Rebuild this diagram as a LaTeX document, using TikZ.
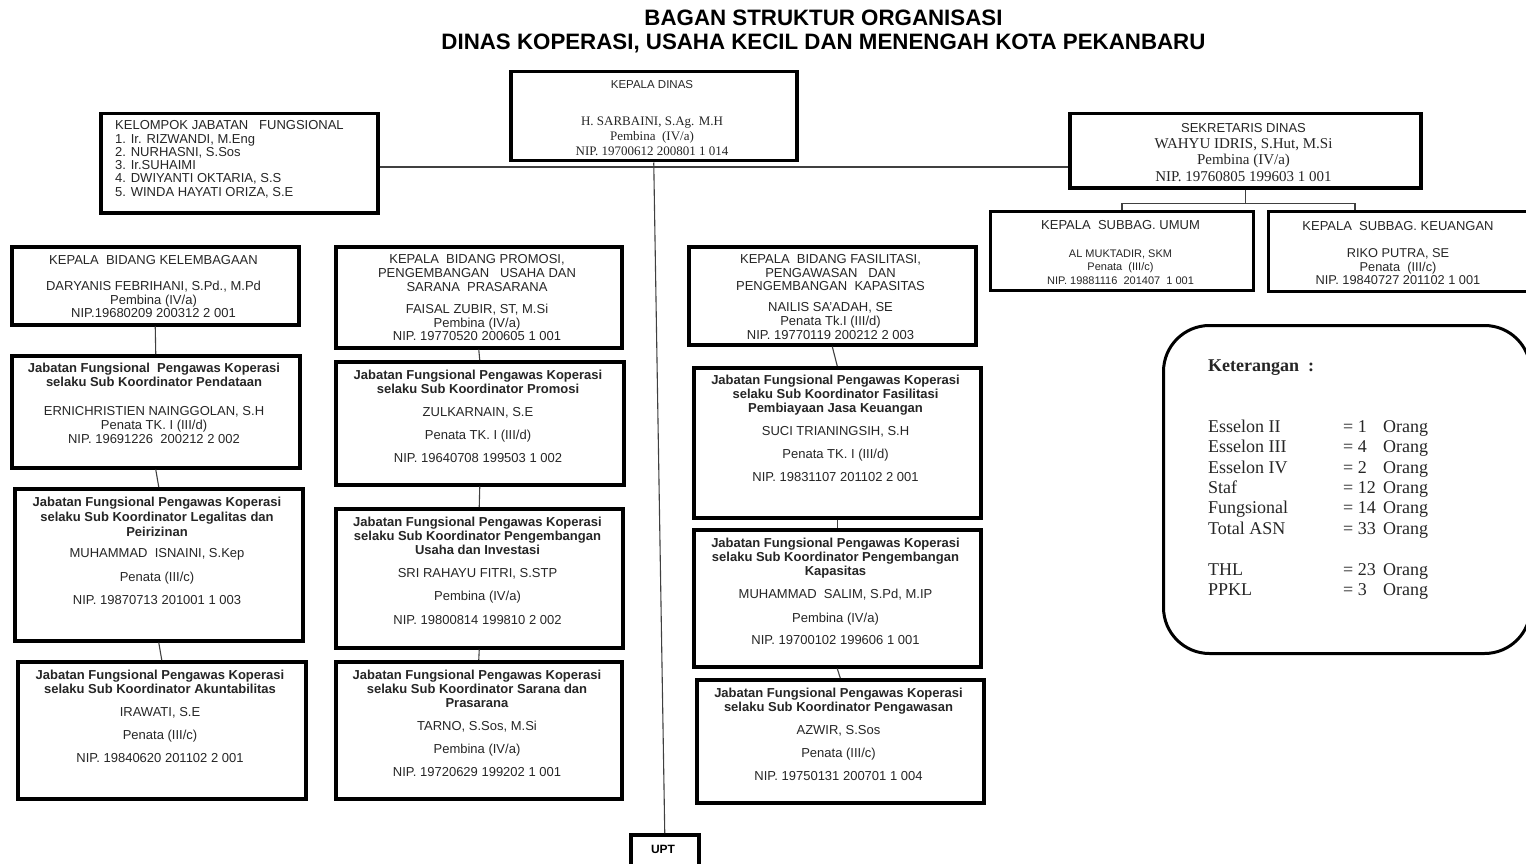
\documentclass[tikz,border=0pt]{standalone}
\usepackage{fontspec}
\setmainfont{Liberation Sans}
\newfontfamily\tnr{Liberation Serif}
\usetikzlibrary{calc}
\tikzset{
  box/.style={draw=black, line width=3.5pt, fill=white, inner sep=0pt},
  conn/.style={draw=black!75, line width=1.1pt},
  txt/.style={inner sep=0pt, align=center, text=black!85, font=\fontsize{13}{14}\selectfont},
  legendbox/.style={draw=black, line width=3pt, fill=white, inner sep=0pt, rounded corners=46pt},
  titletxt/.style={inner sep=0pt, align=center, text=black, font=\fontsize{22.3}{24}\selectfont\bfseries},
}
\newcommand\obox[6][]{\node[box,#1,minimum width={#5-#3},minimum height={#6-#4},anchor=north west] (#2) at (#3,#4) {};}
\newcommand\otext[5][]{\node[txt,anchor=north,#1] (#2) at (#3,{#4-11}) {\rule{0pt}{11pt}#5};}
\newcommand\jb[1]{\textbf{#1}}
\begin{document}
\begin{tikzpicture}[x=1pt,y=-1pt]
\fill[white] (0,0) rectangle (1526,864);
\useasboundingbox (0,0) rectangle (1526,864);

% title
\node[titletxt, anchor=north] (title) at (823.5,8) {\rule{0pt}{17pt}BAGAN STRUKTUR ORGANISASI\\ DINAS KOPERASI, USAHA KECIL DAN MENENGAH KOTA PEKANBARU};

% Kepala Dinas
\obox{kd}{509}{70}{795}{159}
\otext[font=\fontsize{11.5}{13}\selectfont]{kdh}{652}{88}{KEPALA DINAS}
\otext[font=\tnr\fontsize{13}{15}\selectfont]{kdt}{652}{125}{H. SARBAINI, S.Ag. M.H\\ Pembina\ \ (IV/a)\\ NIP. 19700612 200801 1 014}

% Kelompok jabatan fungsional
\obox{kel}{99}{112}{376}{211}
\otext[anchor=north west, align=left, font=\fontsize{13}{13.3}\selectfont]{kelt}{115}{129.5}{KELOMPOK JABATAN\ \ \ FUNGSIONAL\\ 1. Ir. RIZWANDI, M.Eng\\ 2. NURHASNI, S.Sos\\ 3. Ir.SUHAIMI\\ 4. DWIYANTI OKTARIA, S.S\\ 5. WINDA HAYATI ORIZA, S.E}

% Sekretaris
\obox{sek}{1068}{112}{1419}{186}
\otext{sekh}{1243.5}{132.5}{SEKRETARIS DINAS}
\otext[font=\tnr\fontsize{15}{16.5}\selectfont]{sekt}{1243.5}{148}{WAHYU IDRIS, S.Hut, M.Si\\ Pembina (IV/a)\\ NIP. 19760805 199603 1 001}

\obox[line width=3pt]{umum}{989}{210}{1252}{289}
\otext{umumh}{1120.5}{229.5}{KEPALA\ \ SUBBAG. UMUM}
\otext[font=\fontsize{11}{13.5}\selectfont]{umumt}{1120.5}{257}{AL MUKTADIR, SKM\\ Penata\ \ (III/c)\\ NIP. 19881116\ \ 201407\ \ 1 001}

\obox[line width=3pt]{keu}{1267}{210}{1532}{290}
\otext{keuh}{1398}{230.5}{KEPALA\ \ SUBBAG. KEUANGAN}
\otext[font=\fontsize{12.8}{13.5}\selectfont]{keut}{1398}{257.5}{RIKO PUTRA, SE\\ Penata\ \ (III/c)\\ NIP. 19840727 201102 1 001}

% Kepala bidang
\obox{kb1}{10}{245}{297}{323}
\otext{kb1t}{153.5}{264.5}{KEPALA\ \ BIDANG KELEMBAGAAN\\[12pt] DARYANIS FEBRIHANI, S.Pd., M.Pd\\ Pembina (IV/a)\\[-1pt] NIP.19680209 200312 2 001}

\obox{kb2}{334}{245}{620}{346}
\otext{kb2t}{477}{263.5}{KEPALA\ \ BIDANG PROMOSI,\\ PENGEMBANGAN\ \ \ USAHA DAN\\ SARANA\ \ PRASARANA\\[8pt] FAISAL ZUBIR, ST, M.Si\\ Pembina (IV/a)\\[-1pt] NIP. 19770520 200605 1 001}

\obox{kb3}{687}{245}{974}{343}
\otext{kb3t}{830.5}{263.5}{KEPALA\ \ BIDANG FASILITASI,\\ PENGAWASAN\ \ \ DAN\\[-1pt] PENGEMBANGAN\ \ KAPASITAS\\[7pt] NAILIS SA'ADAH, SE\\ Penata Tk.I (III/d)\\ NIP. 19770119 200212 2 003}

% left column
\obox{l1}{10}{354}{298}{466}
\otext{l1t}{154}{372.5}{\jb{Jabatan Fungsional\ \ Pengawas Koperasi}\\ \jb{selaku Sub Koordinator Pendataan}\\[15pt] ERNICHRISTIEN NAINGGOLAN, S.H\\ Penata TK. I (III/d)\\ NIP. 19691226\ \ 200212 2 002}

\obox{l2}{13}{487}{301}{639}
\otext{l2t}{157}{506.5}{\jb{Jabatan Fungsional Pengawas Koperasi}\\[1pt] \jb{selaku Sub Koordinator Legalitas dan}\\[1pt] \jb{Peirizinan}\\[7pt] MUHAMMAD\ \ ISNAINI, S.Kep\\[10pt] Penata (III/c)\\[9pt] NIP. 19870713 201001 1 003}

\obox{l3}{16}{660}{304}{797}
\otext{l3t}{160}{679.5}{\jb{Jabatan Fungsional Pengawas Koperasi}\\ \jb{selaku Sub Koordinator Akuntabilitas}\\[9pt] IRAWATI, S.E\\[9pt] Penata (III/c)\\[9pt] NIP. 19840620 201102 2 001}

% middle column
\obox{m1}{334}{360}{622}{483}
\otext{m1t}{478}{379.5}{\jb{Jabatan Fungsional Pengawas Koperasi}\\ \jb{selaku Sub Koordinator Promosi}\\[9pt] ZULKARNAIN, S.E\\[9pt] Penata TK. I (III/d)\\[9pt] NIP. 19640708 199503 1 002}

\obox{m2}{334}{507}{621}{646}
\otext{m2t}{477.5}{526.5}{\jb{Jabatan Fungsional Pengawas Koperasi}\\ \jb{selaku Sub Koordinator Pengembangan}\\ \jb{Usaha dan Investasi}\\[9pt] SRI RAHAYU FITRI, S.STP\\[9pt] Pembina (IV/a)\\[10pt] NIP. 19800814 199810 2 002}

\obox{m3}{334}{660}{620}{797}
\otext{m3t}{477}{679.5}{\jb{Jabatan Fungsional Pengawas Koperasi}\\ \jb{selaku Sub Koordinator Sarana dan}\\ \jb{Prasarana}\\[9pt] TARNO, S.Sos, M.Si\\[9pt] Pembina (IV/a)\\[9pt] NIP. 19720629 199202 1 001}

% right column
\obox{r1}{692}{366}{979}{516}
\otext{r1t}{835.5}{384.5}{\jb{Jabatan Fungsional Pengawas Koperasi}\\ \jb{selaku Sub Koordinator Fasilitasi}\\ \jb{Pembiayaan Jasa Keuangan}\\[9pt] SUCI TRIANINGSIH, S.H\\[9pt] Penata TK. I (III/d)\\[9pt] NIP. 19831107 201102 2 001}

\obox{r2}{692}{528}{979}{665}
\otext{r2t}{835.5}{547.5}{\jb{Jabatan Fungsional Pengawas Koperasi}\\ \jb{selaku Sub Koordinator Pengembangan}\\ \jb{Kapasitas}\\[9pt] MUHAMMAD\ \ SALIM, S.Pd, M.IP\\[10pt] Pembina (IV/a)\\[8pt] NIP. 19700102 199606 1 001}

\obox{r3}{695}{678}{982}{801}
\otext{r3t}{838.5}{697.5}{\jb{Jabatan Fungsional Pengawas Koperasi}\\ \jb{selaku Sub Koordinator Pengawasan}\\[9pt] AZWIR, S.Sos\\[9pt] Penata (III/c)\\[9pt] NIP. 19750131 200701 1 004}

% UPT
\obox{upt}{629}{833}{697}{885}
\otext[font=\fontsize{12}{14}\selectfont\bfseries, text=black]{uptt}{663}{853.5}{UPT}

% legend
\node[legendbox, minimum width=367, minimum height=328, anchor=north west] (leg) at (1162,324) {};
\node[anchor=base west, inner sep=0pt, text=black!85, font=\tnr\fontsize{18}{20.4}\selectfont] (legt) at (1208,371) {%
\begin{tabular}[t]{@{}p{135pt}@{}p{40pt}@{}l@{}}
\textbf{Keterangan\ \ :} & & \\
 & & \\
 & & \\
Esselon II & = 1 & Orang\\
Esselon III & = 4 & Orang\\
Esselon IV & = 2 & Orang\\
Staf & = 12 & Orang\\
Fungsional & = 14 & Orang\\
Total ASN & = 33 & Orang\\
 & & \\
THL & = 23 & Orang\\
PPKL & = 3 & Orang
\end{tabular}};

% connectors
\coordinate (hl) at (0,167);
\draw[conn] (kd.south) -- (upt.north);
\draw[conn] (kel.east |- hl) -- (sek.west |- hl);
\draw[conn] (sek.south) -- ++(0,14) coordinate (bj);
\coordinate (keuin) at ($(keu.north west)+(88,0)$);
\draw[conn] (umum.north) |- (bj) -| (keuin);
\draw[conn] (kb1.south) -- (l1.north);
\draw[conn] (l1.south) -- (l2.north);
\draw[conn] (l2.south) -- (l3.north);
\draw[conn] (kb2.south) -- (m1.north);
\draw[conn] (m1.south) -- (m2.north);
\draw[conn] (m2.south) -- (m3.north);
\draw[conn] (kb3.south) -- (r1.north);
\draw[conn] (r1.south) -- (r2.north);
\draw[conn] (r2.south) -- (r3.north);
\end{tikzpicture}
\end{document}
